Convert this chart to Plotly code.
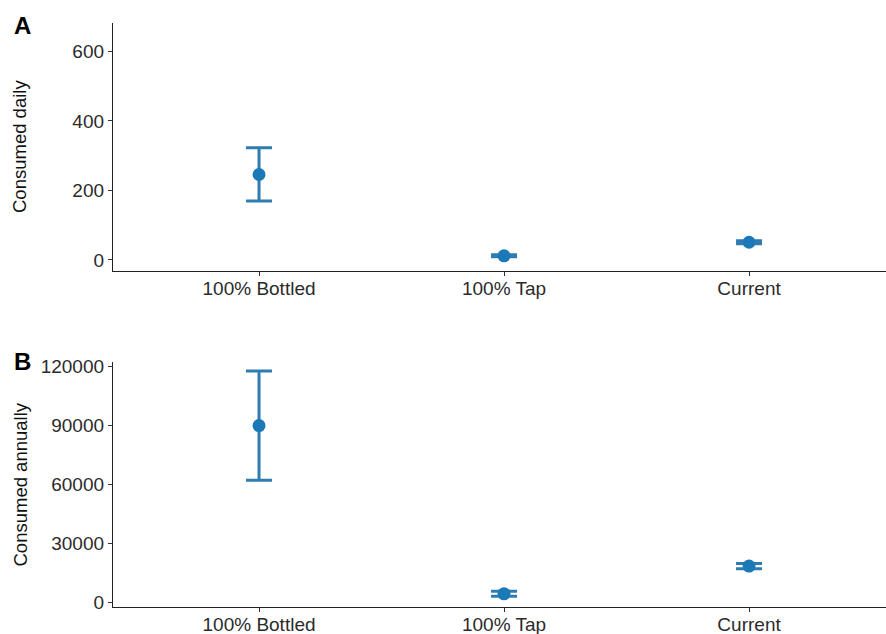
import plotly.graph_objects as go
from plotly.subplots import make_subplots

# Scenario categories and estimates (mean with lower/upper interval bounds)
categories = ["100% Bottled", "100% Tap", "Current"]
x_pos = [1, 2, 3]

daily_mean = [246, 12, 51]
daily_low = [170, 9, 47]
daily_high = [323, 15, 55]

annual_mean = [89800, 4400, 18500]
annual_low = [62000, 3200, 17100]
annual_high = [117500, 5700, 19800]

daily_ticks = [0, 200, 400, 600]
annual_ticks = [0, 30000, 60000, 90000, 120000]

BAR_COLOR = "#2f7cb0"
POINT_COLOR = "#1c79b7"
FONT = "Liberation Sans, Arial, sans-serif"

fig = make_subplots(rows=2, cols=1, vertical_spacing=0.0)


def add_panel(mean, low, high, row):
    fig.add_trace(
        go.Scatter(
            x=x_pos,
            y=mean,
            mode="markers",
            marker=dict(size=13, color=POINT_COLOR),
            error_y=dict(
                type="data",
                symmetric=False,
                array=[h - m for h, m in zip(high, mean)],
                arrayminus=[m - l for m, l in zip(mean, low)],
                color=BAR_COLOR,
                thickness=3,
                width=13,
            ),
            showlegend=False,
            hoverinfo="skip",
        ),
        row=row,
        col=1,
    )


add_panel(daily_mean, daily_low, daily_high, 1)
add_panel(annual_mean, annual_low, annual_high, 2)

axis_common = dict(
    showline=True,
    linecolor="#222222",
    linewidth=1.3,
    ticks="outside",
    ticklen=4,
    tickwidth=1.1,
    tickcolor="#333333",
    showgrid=False,
    zeroline=False,
    tickfont=dict(family=FONT, size=19, color="#2b2b2b"),
)

for r in (1, 2):
    fig.update_xaxes(
        range=[0.404, 3.559],
        tickvals=x_pos,
        ticktext=categories,
        ticklabelstandoff=-4,
        row=r,
        col=1,
        **axis_common,
    )

fig.update_yaxes(
    range=[-31.7, 682],
    tickvals=daily_ticks,
    ticktext=[str(v) for v in daily_ticks],
    row=1,
    col=1,
    **axis_common,
)
fig.update_yaxes(
    range=[-2300, 122100],
    tickvals=annual_ticks,
    ticktext=[str(v) for v in annual_ticks],
    row=2,
    col=1,
    **axis_common,
)

# Panel domains (shared plot width, two stacked panels)
TOP = 23
BOTTOM = 607
PH = BOTTOM - TOP
dom_a = [(BOTTOM - 271) / PH, 1.0]
dom_b = [0.0, (BOTTOM - 362) / PH]
fig.update_layout(
    yaxis=dict(domain=dom_a),
    yaxis2=dict(domain=dom_b),
)

W = 886
L = 113
plot_w = W - L

# Panel letters
for letter, ypix in (("A", 26), ("B", 362)):
    fig.add_annotation(
        text=f"<b>{letter}</b>",
        xref="paper",
        yref="paper",
        x=(12 - L) / plot_w,
        y=(BOTTOM - ypix) / PH,
        xanchor="left",
        yanchor="middle",
        showarrow=False,
        font=dict(family=FONT, size=24, color="#000000"),
    )

# Y axis titles
for title, dom in (("Consumed daily", dom_a), ("Consumed annually", dom_b)):
    fig.add_annotation(
        text=title,
        xref="paper",
        yref="paper",
        x=(20 - L) / plot_w,
        y=(dom[0] + dom[1]) / 2,
        xanchor="center",
        yanchor="middle",
        textangle=-90,
        showarrow=False,
        font=dict(family=FONT, size=18.5, color="#111111"),
    )

fig.update_layout(
    width=W,
    height=634,
    margin=dict(l=L, r=0, t=TOP, b=634 - BOTTOM, autoexpand=False),
    paper_bgcolor="white",
    plot_bgcolor="white",
    font=dict(family=FONT),
)

fig.write_html("out.html")
